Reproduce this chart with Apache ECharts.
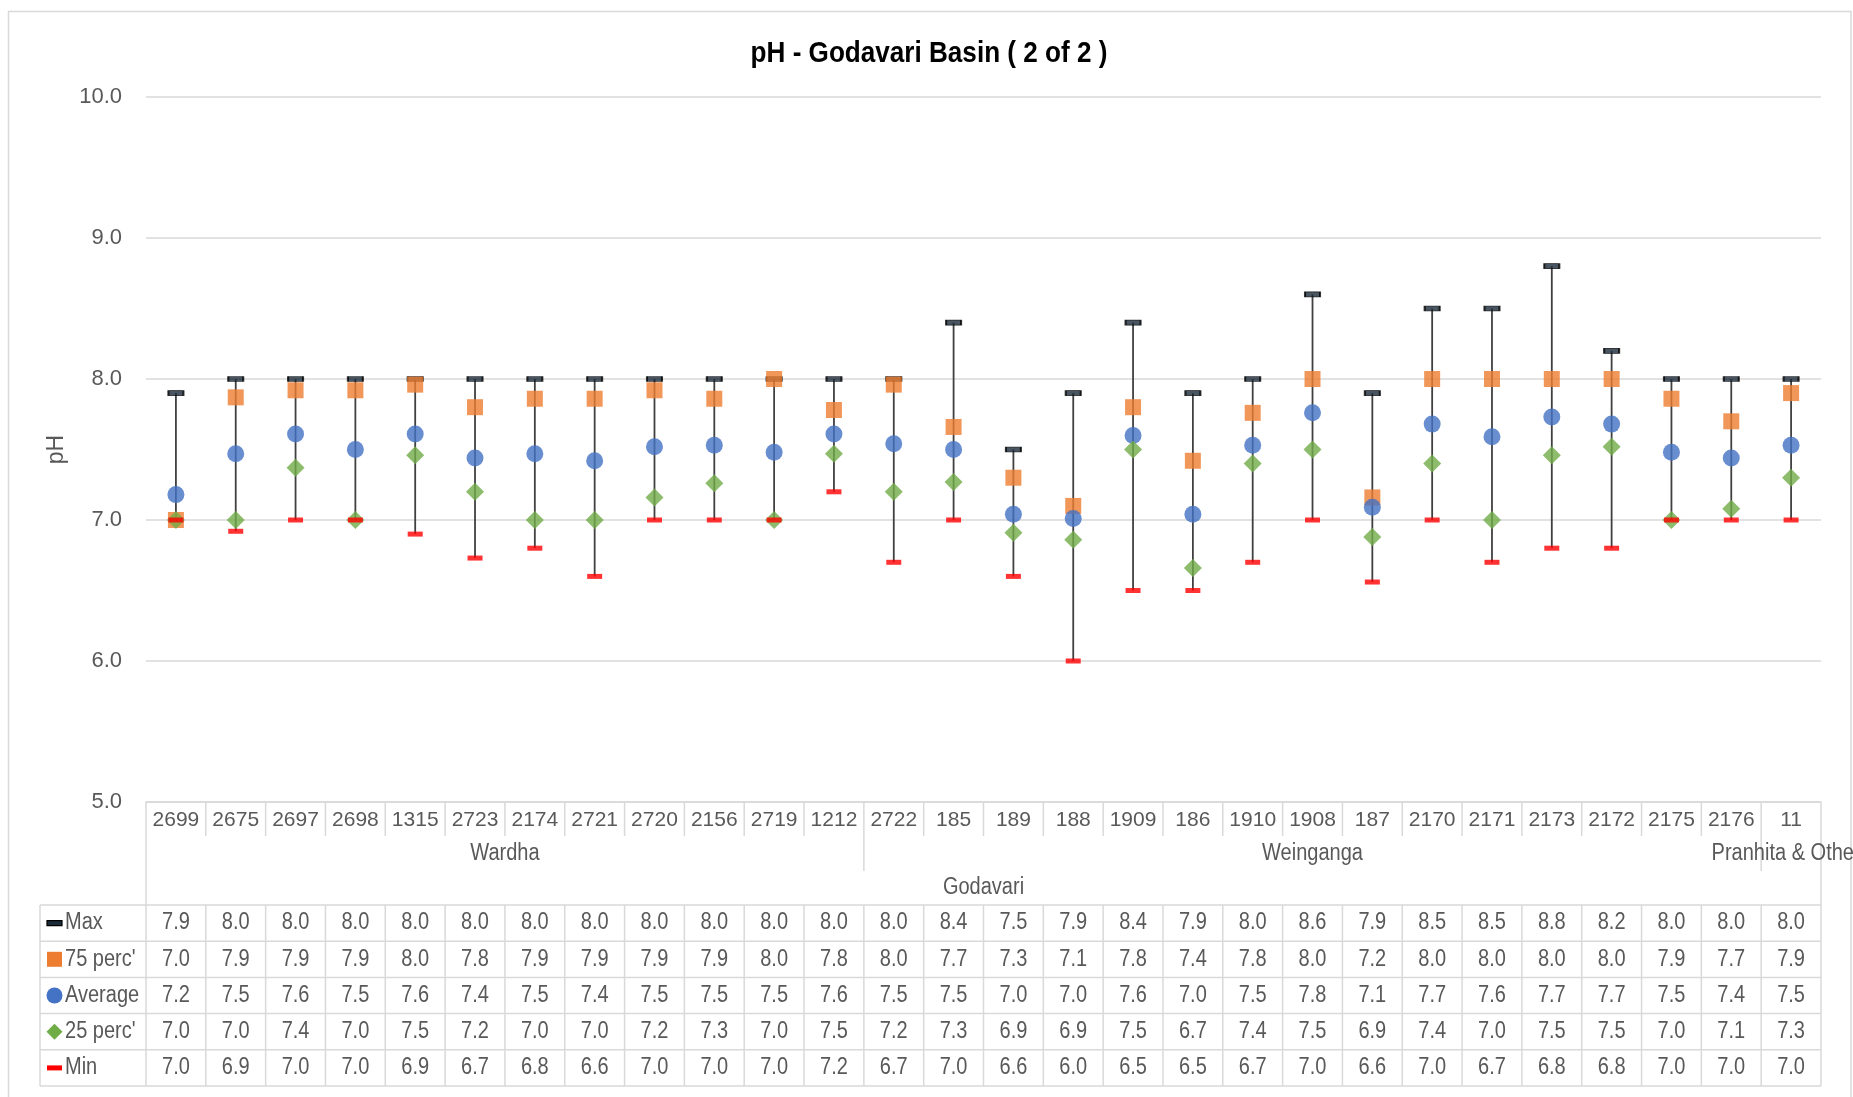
<!DOCTYPE html>
<html>
<head>
<meta charset="utf-8">
<script src="https://cdn.jsdelivr.net/npm/echarts@6/dist/echarts.min.js"></script>
<style>
html,body{margin:0;padding:0;background:#fff;}
#main{width:1853px;height:1097px;}
</style>
</head>
<body>
<div id="main"></div>
<script>
// ---------------- data ----------------
const codes = ['2699','2675','2697','2698','1315','2723','2174','2721','2720','2156','2719','1212','2722','185','189','188','1909','186','1910','1908','187','2170','2171','2173','2172','2175','2176','11'];
const groupNames = ['Wardha','Weinganga','Pranhita & Others'];
const groupSizes = [12, 15, 1];
const basinName = 'Godavari';
const titleText = 'pH - Godavari Basin ( 2 of 2 )';
const seriesNames = ['Max', "75 perc'", 'Average', "25 perc'", 'Min'];
const maxV = [7.9,8.0,8.0,8.0,8.0,8.0,8.0,8.0,8.0,8.0,8.0,8.0,8.0,8.4,7.5,7.9,8.4,7.9,8.0,8.6,7.9,8.5,8.5,8.8,8.2,8.0,8.0,8.0];
const p75 = [7.0,7.87,7.92,7.92,7.96,7.8,7.86,7.86,7.92,7.86,8.0,7.78,7.96,7.66,7.3,7.1,7.8,7.42,7.76,8.0,7.16,8.0,8.0,8.0,8.0,7.86,7.7,7.9];
const avgV = [7.18,7.47,7.61,7.50,7.61,7.44,7.47,7.42,7.52,7.53,7.48,7.61,7.54,7.50,7.04,7.01,7.60,7.04,7.53,7.76,7.09,7.68,7.59,7.73,7.68,7.48,7.44,7.53];
const p25 = [7.0,7.0,7.37,7.0,7.46,7.2,7.0,7.0,7.16,7.26,7.0,7.47,7.2,7.27,6.91,6.86,7.5,6.66,7.4,7.5,6.88,7.4,7.0,7.46,7.52,7.0,7.08,7.3];
const minV = [7.0,6.92,7.0,7.0,6.9,6.73,6.8,6.6,7.0,7.0,7.0,7.2,6.7,7.0,6.6,6.0,6.5,6.5,6.7,7.0,6.56,7.0,6.7,6.8,6.8,7.0,7.0,7.0];
const yTicks = [5, 6, 7, 8, 9, 10];

// ---------------- styles ----------------
const FONT = "'Liberation Sans', Arial, sans-serif";
const SX = 0.87; // horizontal text compression of the original
const TXT = '#595959';
const LINE = '#d9d9d9';
const colors = {
  max: '#1b2a38', p75: '#ED7D31', avg: '#4472C4', p25: '#70AD47', min: '#FF0000'
};
const seriesData = [maxV, p75, avgV, p25, minV];
const symbols = ['rect', 'rect', 'circle', 'diamond', 'rect'];
const symbolSizes = [[15,5], 16, 17, 18, [15,5]];
const symColors = [colors.max, colors.p75, colors.avg, colors.p25, colors.min];

const chart = echarts.init(document.getElementById('main'), null, {renderer: 'canvas'});

const scatterSeries = seriesNames.map((nm, k) => ({
  name: nm,
  type: 'scatter',
  data: seriesData[k].map((v, i) => [i, v]),
  symbol: symbols[k],
  symbolSize: symbolSizes[k],
  itemStyle: k === 0 ? {color: colors.max, borderColor: '#000', borderWidth: 1.2} : {color: symColors[k]},
  z: 3 + k,
  emphasis: {disabled: true},
  silent: true
}));

const option = {
  animation: false,
  backgroundColor: '#fff',
  grid: {left: 146, right: 32, top: 97, bottom: 295, containLabel: false},
  xAxis: {
    type: 'category',
    data: codes,
    boundaryGap: true,
    axisLine: {show: true, lineStyle: {color: LINE, width: 1.5}},
    axisTick: {show: false},
    axisLabel: {
      interval: 0, margin: 18, verticalAlign: 'middle',
      fontFamily: FONT, fontSize: 21, color: TXT
    },
    splitLine: {show: false}
  },
  yAxis: {
    type: 'value',
    min: yTicks[0], max: yTicks[yTicks.length - 1], interval: 1,
    name: 'pH',
    nameLocation: 'middle',
    nameRotate: 90,
    nameGap: 72,
    nameTextStyle: {fontFamily: FONT, fontSize: 23, color: TXT},
    axisLine: {show: false},
    axisTick: {show: false},
    axisLabel: {
      margin: 24, fontFamily: FONT, fontSize: 22, color: TXT,
      formatter: v => v.toFixed(1)
    },
    splitLine: {show: true, lineStyle: {color: LINE, width: 1.5}}
  },
  series: [
    {
      type: 'custom',
      name: 'range',
      silent: true,
      z: 2,
      encode: {x: 0, y: [1, 2]},
      data: codes.map((c, i) => [i, minV[i], maxV[i]]),
      renderItem: function (params, api) {
        const p1 = api.coord([api.value(0), api.value(1)]);
        const p2 = api.coord([api.value(0), api.value(2)]);
        return {
          type: 'line',
          shape: {x1: p1[0], y1: p1[1], x2: p2[0], y2: p2[1]},
          style: {stroke: '#404040', lineWidth: 1.8}
        };
      }
    }
  ].concat(scatterSeries)
};

chart.setOption(option);

// ---------------- title, category header + data table (positions from the axes) ----------------
function buildTable() {
  const n = codes.length;
  const cx = codes.map((c, i) => chart.convertToPixel({xAxisIndex: 0}, i));
  const w = cx[1] - cx[0];
  const L = cx[0] - w / 2;
  const R = cx[n - 1] + w / 2;
  const yb = chart.convertToPixel({yAxisIndex: 0}, yTicks[0]);
  const codeRowEnd = yb + 34;
  const groupRowEnd = yb + 69;
  const groupY = yb + 52;
  const basinY = yb + 86;
  const T = yb + 103;
  const rh = 36.2;
  const tableLeft = 40;
  const els = [];
  const line = (x1, y1, x2, y2, col) => els.push({
    type: 'line', silent: true,
    shape: {x1, y1, x2, y2},
    style: {stroke: col || LINE, lineWidth: 1.5}
  });
  const text = (x, y, t, opts) => els.push({
    type: 'text', silent: true, x, y, scaleX: SX,
    style: Object.assign({
      text: t, fontFamily: FONT, fontSize: 23, fill: TXT,
      align: 'center', verticalAlign: 'middle'
    }, (opts || {}))
  });

  // outer chart border
  els.push({type: 'rect', silent: true, shape: {x: 8.5, y: 11.5, width: 1842.5, height: 1100},
    style: {fill: null, stroke: LINE, lineWidth: 1.5}});

  // title
  text(929, 54, titleText, {fontSize: 30, fontWeight: 'bold', fill: '#000'});

  // group boundaries
  const groupBounds = [];
  let acc = 0;
  groupSizes.forEach(s => { acc += s; groupBounds.push(acc); });

  // header separators
  line(L, yb, L, T);
  line(R, yb, R, T);
  for (let i = 1; i < n; i++) {
    const x = L + i * w;
    const isGroup = groupBounds.indexOf(i) >= 0;
    line(x, yb, x, isGroup ? groupRowEnd : codeRowEnd);
  }
  // group labels
  let start = 0;
  groupNames.forEach((g, k) => {
    const s = start, e = start + groupSizes[k] - 1;
    text((cx[s] + cx[e]) / 2, groupY, g);
    start += groupSizes[k];
  });
  // basin label
  text((cx[0] + cx[n - 1]) / 2, basinY, basinName);

  // table grid
  for (let r = 0; r <= seriesNames.length; r++) {
    line(tableLeft, T + r * rh, R, T + r * rh);
  }
  line(tableLeft, T, tableLeft, T + seriesNames.length * rh);
  for (let i = 0; i <= n; i++) {
    const x = L + i * w;
    line(x, T, x, T + seriesNames.length * rh);
  }
  // table rows
  seriesNames.forEach((nm, k) => {
    const yc = T + (k + 0.5) * rh;
    const kx = 54.5;
    if (symbols[k] === 'rect' && Array.isArray(symbolSizes[k])) {
      els.push({type: 'rect', silent: true, shape: {x: kx - 7.5, y: yc - 2.5, width: 15, height: 5},
        style: k === 0 ? {fill: colors.max, stroke: '#000', lineWidth: 1.2} : {fill: symColors[k]}});
    } else if (symbols[k] === 'rect') {
      els.push({type: 'rect', silent: true, shape: {x: kx - 7.5, y: yc - 7.5, width: 15, height: 15},
        style: {fill: symColors[k]}});
    } else if (symbols[k] === 'circle') {
      els.push({type: 'circle', silent: true, shape: {cx: kx, cy: yc, r: 8}, style: {fill: symColors[k]}});
    } else {
      els.push({type: 'polygon', silent: true,
        shape: {points: [[kx, yc - 8], [kx + 8, yc], [kx, yc + 8], [kx - 8, yc]]},
        style: {fill: symColors[k]}});
    }
    text(65, yc, nm, {align: 'left'});
    seriesData[k].forEach((v, i) => {
      text(cx[i], yc, v.toFixed(1));
    });
  });

  chart.setOption({graphic: {elements: els}});
}
buildTable();
</script>
</body>
</html>
